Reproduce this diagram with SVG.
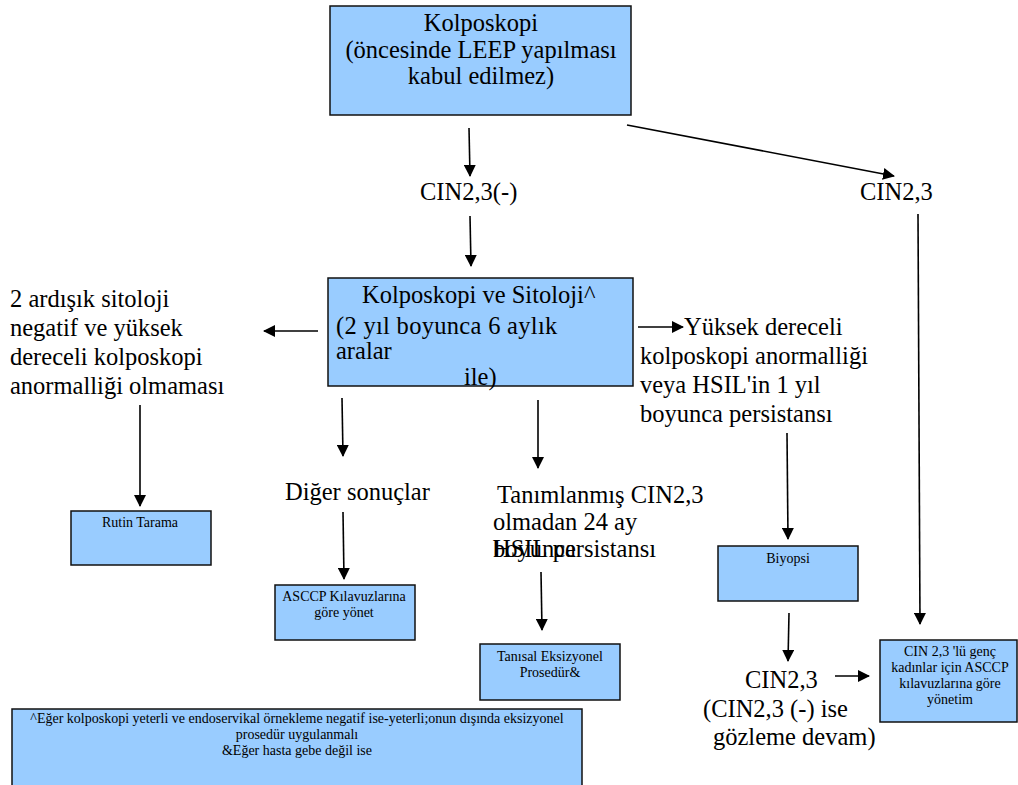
<svg xmlns="http://www.w3.org/2000/svg" width="1018" height="785" viewBox="0 0 1018 785">
  <defs>
    <marker id="arrow" viewBox="0 0 12 12" refX="11" refY="6" markerWidth="12" markerHeight="12" markerUnits="userSpaceOnUse" orient="auto">
      <path d="M0,0 L12,6 L0,12 z" fill="#000"/>
    </marker>
    <style>
      text { font-family: "Liberation Serif", "Times New Roman", "DejaVu Serif", serif; fill: #000; }
      .box { fill: #99ccff; stroke: #111; stroke-width: 1.5; }
      .big { font-size: 24.5px; }
      .small { font-size: 14px; }
      .mid { text-anchor: middle; }
      .edge { stroke: #000; stroke-width: 1.6; fill: none; marker-end: url(#arrow); }
    </style>
  </defs>
  <rect width="1018" height="785" fill="#fff"/>

  <g id="connectors">
    <line class="edge" x1="469" y1="128" x2="470" y2="176"/>
    <line class="edge" x1="470" y1="216" x2="471" y2="266"/>
    <line class="edge" x1="627" y1="125" x2="894" y2="176"/>
    <line class="edge" x1="918" y1="214" x2="920" y2="624"/>
    <line class="edge" x1="318" y1="331" x2="264" y2="331"/>
    <line class="edge" x1="638" y1="327" x2="683" y2="327"/>
    <line class="edge" x1="140" y1="405" x2="140" y2="506"/>
    <line class="edge" x1="342" y1="398" x2="343" y2="456"/>
    <line class="edge" x1="343" y1="512" x2="344" y2="579"/>
    <line class="edge" x1="538" y1="400" x2="538" y2="468"/>
    <line class="edge" x1="541" y1="572" x2="542" y2="630"/>
    <line class="edge" x1="787" y1="433" x2="788" y2="539"/>
    <line class="edge" x1="789" y1="613" x2="788" y2="661"/>
    <line class="edge" x1="835" y1="676" x2="869" y2="676"/>
  </g>

  <g id="kolposkopi">
    <rect class="box" x="330" y="6" width="301" height="109"/>
    <text class="big mid" x="481" y="31">Kolposkopi</text>
    <text class="big mid" x="481" y="58">(öncesinde LEEP yapılması</text>
    <text class="big mid" x="481" y="84">kabul edilmez)</text>
  </g>

  <g id="cin-negatif">
    <text class="big" x="420" y="200">CIN2,3(-)</text>
  </g>

  <g id="cin-pozitif">
    <text class="big" x="860" y="200">CIN2,3</text>
  </g>

  <g id="kolposkopi-sitoloji">
    <rect class="box" x="328" y="278" width="305" height="108"/>
    <text class="big" x="362" y="303">Kolposkopi ve Sitoloji^</text>
    <text class="big" x="336" y="334" letter-spacing="0.3">(2 yıl boyunca 6 aylık</text>
    <text class="big" x="336" y="359">aralar</text>
    <text class="big" x="464" y="385">ile)</text>
  </g>

  <g id="sitoloji-negatif">
    <text class="big" x="10" y="307">2 ardışık sitoloji</text>
    <text class="big" x="10" y="336">negatif ve yüksek</text>
    <text class="big" x="10" y="365">dereceli kolposkopi</text>
    <text class="big" x="10" y="394">anormalliği olmaması</text>
  </g>

  <g id="yuksek-dereceli">
    <text class="big" x="684" y="335">Yüksek dereceli</text>
    <text class="big" x="640" y="364">kolposkopi anormalliği</text>
    <text class="big" x="640" y="393">veya HSIL'in 1 yıl</text>
    <text class="big" x="640" y="422">boyunca persistansı</text>
  </g>

  <g id="rutin-tarama">
    <rect class="box" x="71" y="511" width="140" height="54"/>
    <text class="small mid" x="140" y="527">Rutin Tarama</text>
  </g>

  <g id="diger-sonuclar">
    <text class="big" x="285" y="500">Diğer sonuçlar</text>
  </g>

  <g id="asccp-yonet">
    <rect class="box" x="275" y="585" width="140" height="55"/>
    <text class="small mid" x="344" y="601">ASCCP Kılavuzlarına</text>
    <text class="small mid" x="344" y="617">göre yönet</text>
  </g>

  <g id="hsil-persistans">
    <text class="big" x="497" y="503">Tanımlanmış CIN2,3</text>
    <text class="big" x="493" y="530">olmadan 24 ay</text>
    <text class="big" x="493" y="557">boyunca</text>
    <text class="big" x="493" y="557">HSIL persistansı</text>
  </g>

  <g id="tanisal-eksizyon">
    <rect class="box" x="480" y="644" width="140" height="56"/>
    <text class="small mid" x="550" y="661">Tanısal Eksizyonel</text>
    <text class="small mid" x="550" y="677">Prosedür&amp;</text>
  </g>

  <g id="biyopsi">
    <rect class="box" x="718" y="546" width="140" height="55"/>
    <text class="small mid" x="788" y="563">Biyopsi</text>
  </g>

  <g id="biyopsi-sonuc">
    <text class="big" x="745" y="688">CIN2,3</text>
    <text class="big" x="703" y="717">(CIN2,3 (-) ise</text>
    <text class="big" x="713" y="745">gözleme devam)</text>
  </g>

  <g id="asccp-genc">
    <rect class="box" x="880" y="640" width="137" height="82"/>
    <text class="small mid" x="950" y="656">CIN 2,3 'lü genç</text>
    <text class="small mid" x="950" y="672">kadınlar için ASCCP</text>
    <text class="small mid" x="950" y="688">kılavuzlarına göre</text>
    <text class="small mid" x="950" y="704">yönetim</text>
  </g>

  <g id="dipnot">
    <rect class="box" x="12" y="709" width="570" height="80"/>
    <text class="small mid" x="297" y="723">^Eğer kolposkopi  yeterli ve endoservikal örnekleme negatif ise-yeterli;onun dışında eksizyonel</text>
    <text class="small mid" x="297" y="739">prosedür uygulanmalı</text>
    <text class="small mid" x="297" y="755">&amp;Eğer hasta gebe değil ise</text>
  </g>
</svg>
